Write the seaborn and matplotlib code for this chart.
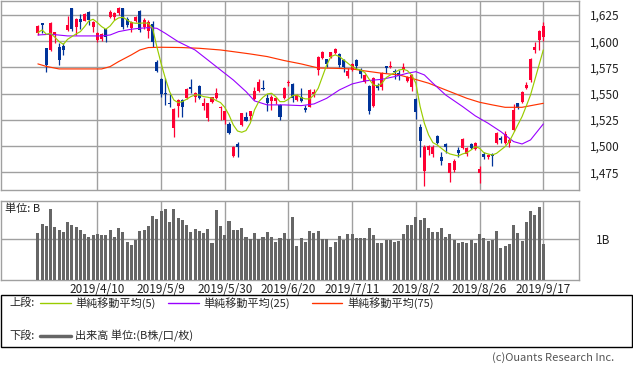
import numpy as np
import pandas as pd
import matplotlib
matplotlib.use("Agg")
import matplotlib.pyplot as plt
import seaborn as sns
from matplotlib.patches import Rectangle

# ---------------- data ----------------
tick_days = [14, 29, 44, 59, 74, 89, 104, 119]
tick_labels = ["2019/4/10", "2019/5/9", "2019/5/30", "2019/6/20",
               "2019/7/11", "2019/8/2", "2019/8/26", "2019/9/17"]
price_ticks = [1475, 1500, 1525, 1550, 1575, 1600, 1625]

opens = [1608.3, 1617.0, 1593.3, 1591.7, 1606.7, 1594.9, 1595.5, 1610.8, 1631.5, 1614.0,
         1621.0, 1619.7, 1628.0, 1614.0, 1601.3, 1602.2, 1611.5, 1623.5, 1622.9, 1626.7,
         1631.5, 1621.0, 1612.4, 1619.7, 1629.0, 1614.0, 1610.2, 1616.5, 1580.6, 1563.7,
         1551.0, 1541.0, 1517.0, 1538.3, 1544.0, 1545.6, 1556.0, 1546.6, 1557.4, 1538.3,
         1526.5, 1542.0, 1545.6, 1536.5, 1525.0, 1521.0, 1490.6, 1502.0, 1520.2, 1527.5,
         1528.8, 1544.7, 1552.9, 1555.8, 1546.2, 1543.4, 1543.4, 1539.3, 1545.6, 1559.9,
         1559.3, 1544.0, 1547.2, 1536.1, 1537.7, 1549.4, 1572.6, 1583.8, 1582.8, 1584.7,
         1588.5, 1587.9, 1582.2, 1566.9, 1572.6, 1582.2, 1572.6, 1561.5, 1557.4, 1538.3,
         1558.3, 1556.1, 1576.5, 1575.8, 1571.7, 1570.1, 1572.6, 1562.5, 1556.1, 1545.0,
         1518.6, 1476.6, 1496.3, 1492.5, 1509.7, 1490.0, 1502.0, 1474.0, 1477.2, 1496.3,
         1497.9, 1492.2, 1502.0, 1496.9, 1474.1, 1492.5, 1490.0, 1492.5, 1502.7, 1507.4,
         1502.7, 1502.7, 1515.4, 1540.8, 1542.4, 1555.2, 1563.1, 1591.7, 1601.3, 1604.5]
closes = [1614.6, 1616.0, 1577.4, 1617.8, 1608.6, 1582.2, 1591.7, 1615.6, 1611.5, 1621.0,
          1618.8, 1626.0, 1620.0, 1618.8, 1607.6, 1606.7, 1604.5, 1628.0, 1626.7, 1631.5,
          1614.0, 1615.6, 1618.8, 1623.5, 1610.8, 1620.4, 1618.8, 1599.7, 1572.0, 1549.7,
          1549.7, 1540.5, 1535.4, 1544.0, 1537.0, 1554.2, 1554.8, 1550.4, 1545.6, 1541.5,
          1540.8, 1546.6, 1551.0, 1536.8, 1533.0, 1512.2, 1499.5, 1498.8, 1531.3, 1524.3,
          1533.0, 1552.9, 1561.5, 1554.2, 1541.5, 1547.2, 1545.6, 1528.1, 1555.8, 1561.5,
          1545.6, 1548.8, 1543.4, 1534.5, 1553.6, 1552.0, 1585.4, 1590.1, 1578.4, 1589.5,
          1592.7, 1577.4, 1575.8, 1572.0, 1578.4, 1576.5, 1568.8, 1567.9, 1533.8, 1564.7,
          1555.2, 1569.5, 1574.2, 1576.8, 1570.4, 1566.9, 1575.2, 1566.3, 1567.9, 1532.9,
          1505.2, 1499.5, 1500.2, 1499.5, 1503.3, 1486.2, 1498.8, 1483.6, 1486.2, 1493.1,
          1506.8, 1497.9, 1497.9, 1503.3, 1477.9, 1490.0, 1491.2, 1490.6, 1512.2, 1505.9,
          1511.3, 1505.9, 1534.5, 1536.7, 1551.7, 1558.3, 1582.8, 1594.9, 1610.2, 1614.6]
highs = [1616.0, 1617.5, 1594.0, 1618.5, 1609.2, 1598.0, 1598.0, 1624.0, 1632.0, 1622.0,
         1626.0, 1626.7, 1629.0, 1619.5, 1608.6, 1607.5, 1612.0, 1629.5, 1627.5, 1633.0,
         1632.0, 1623.0, 1619.5, 1624.5, 1630.0, 1622.0, 1620.0, 1619.0, 1582.0, 1565.0,
         1564.6, 1549.5, 1536.0, 1544.6, 1544.6, 1555.0, 1563.7, 1552.0, 1558.0, 1545.6,
         1541.5, 1547.2, 1555.0, 1538.3, 1533.6, 1523.4, 1500.0, 1504.3, 1532.0, 1532.9,
         1533.5, 1556.0, 1563.7, 1563.0, 1549.4, 1548.8, 1547.0, 1540.0, 1556.7, 1563.0,
         1560.0, 1549.4, 1555.0, 1539.3, 1554.2, 1554.2, 1586.0, 1590.8, 1583.5, 1590.0,
         1593.3, 1589.2, 1583.0, 1574.2, 1579.6, 1583.0, 1574.2, 1569.0, 1558.0, 1565.6,
         1560.0, 1571.0, 1576.5, 1581.2, 1573.6, 1572.6, 1579.6, 1566.9, 1568.5, 1545.6,
         1521.1, 1501.1, 1501.1, 1501.1, 1511.0, 1494.7, 1502.5, 1484.2, 1487.4, 1499.5,
         1507.4, 1499.5, 1503.3, 1504.3, 1481.4, 1494.7, 1492.5, 1493.7, 1513.8, 1509.7,
         1514.5, 1507.4, 1540.2, 1541.5, 1552.6, 1561.5, 1583.8, 1599.7, 1610.8, 1618.8]
lows = [1606.0, 1608.0, 1571.0, 1591.0, 1598.0, 1577.0, 1587.0, 1610.0, 1610.0, 1606.0,
        1612.0, 1619.0, 1616.0, 1609.0, 1599.7, 1600.0, 1599.0, 1622.0, 1620.0, 1625.0,
        1612.0, 1614.0, 1609.0, 1618.5, 1609.0, 1612.0, 1603.0, 1595.0, 1571.0, 1547.0,
        1539.3, 1537.0, 1508.4, 1528.0, 1527.5, 1545.0, 1550.4, 1542.4, 1545.0, 1534.5,
        1524.0, 1541.5, 1545.0, 1525.0, 1521.0, 1511.6, 1489.3, 1490.0, 1519.0, 1524.0,
        1525.0, 1544.0, 1552.0, 1553.6, 1533.0, 1534.5, 1540.0, 1525.0, 1544.7, 1557.4,
        1542.4, 1543.4, 1542.4, 1532.2, 1537.0, 1546.6, 1567.9, 1582.8, 1575.8, 1583.8,
        1588.0, 1575.8, 1571.0, 1564.7, 1572.0, 1573.3, 1564.7, 1560.5, 1530.7, 1537.0,
        1553.6, 1553.6, 1570.1, 1574.9, 1564.1, 1563.1, 1571.0, 1561.5, 1552.9, 1525.6,
        1490.0, 1462.3, 1491.5, 1490.0, 1502.0, 1482.0, 1493.7, 1466.0, 1475.6, 1490.0,
        1496.9, 1490.6, 1496.9, 1496.3, 1465.1, 1487.7, 1487.7, 1481.4, 1501.7, 1503.3,
        1502.0, 1499.5, 1514.8, 1535.1, 1541.5, 1554.2, 1561.5, 1588.5, 1591.7, 1600.6]

volume_b = [1.16, 1.38, 1.33, 1.75, 1.30, 1.23, 1.18, 1.43, 1.36, 1.30,
            1.24, 1.14, 1.06, 1.11, 1.13, 1.11, 1.11, 1.23, 1.06, 1.28,
            1.18, 0.93, 0.87, 0.98, 1.20, 1.23, 1.33, 1.57, 1.50, 1.70,
            1.75, 1.43, 1.75, 1.52, 1.48, 1.35, 1.18, 1.25, 1.20, 1.16,
            1.25, 0.91, 1.72, 1.33, 1.11, 1.45, 1.23, 1.23, 1.28, 1.06,
            1.01, 1.16, 1.01, 1.06, 1.18, 1.06, 0.93, 1.03, 1.16, 1.01,
            1.56, 0.84, 1.03, 0.93, 1.20, 1.16, 1.20, 1.01, 1.01, 0.81,
            0.93, 1.08, 0.98, 1.13, 1.13, 1.03, 1.03, 1.03, 1.28, 1.11,
            0.91, 0.91, 0.98, 0.98, 0.93, 0.96, 1.13, 1.35, 1.35, 1.55,
            1.48, 1.52, 1.28, 1.18, 1.18, 1.28, 1.06, 1.13, 0.98, 0.91,
            0.93, 0.91, 0.98, 0.91, 1.13, 1.03, 0.96, 0.98, 1.20, 0.79,
            0.84, 0.89, 1.35, 1.16, 0.96, 1.43, 1.70, 1.60, 1.80, 0.89]

ma5 = [1608.3, 1610.8, 1606.7, 1607.6, 1603.8, 1599.7, 1597.1, 1601.9, 1604.5, 1607.0,
       1609.2, 1614.0, 1619.4, 1621.0, 1617.8, 1614.0, 1611.5, 1614.6, 1619.7, 1622.3,
       1622.9, 1620.4, 1617.8, 1617.2, 1617.2, 1617.5, 1617.2, 1612.4, 1594.9, 1579.0,
       1564.7, 1552.0, 1544.0, 1541.5, 1542.4, 1544.7, 1547.2, 1548.8, 1548.8, 1547.2,
       1546.6, 1545.6, 1543.4, 1541.5, 1537.0, 1529.7, 1520.2, 1514.4, 1513.2, 1514.8,
       1521.8, 1534.5, 1542.4, 1546.6, 1549.7, 1550.4, 1547.2, 1542.4, 1542.4, 1544.7,
       1548.2, 1548.8, 1546.2, 1545.0, 1545.0, 1548.8, 1555.2, 1566.3, 1577.4, 1585.4,
       1587.0, 1585.4, 1582.2, 1579.0, 1575.8, 1573.6, 1572.6, 1570.1, 1563.7, 1558.3,
       1557.4, 1559.9, 1565.3, 1567.9, 1570.1, 1572.6, 1573.3, 1572.0, 1567.9, 1559.9,
       1537.7, 1521.8, 1510.6, 1503.3, 1501.1, 1497.9, 1494.7, 1492.5, 1491.5, 1490.6,
       1492.5, 1493.7, 1496.3, 1499.5, 1497.9, 1493.7, 1492.5, 1491.5, 1493.1, 1496.3,
       1499.5, 1504.3, 1512.2, 1520.2, 1528.1, 1538.3, 1548.8, 1563.1, 1577.4, 1591.7]

ma25_days = [0, 3, 7, 11, 15, 17, 19, 22, 24, 26, 28, 30, 33, 37, 40, 43, 46, 49, 51, 54,
             58, 62, 65, 68, 71, 74, 77, 81, 84, 87, 89, 91, 93, 96, 100, 103, 106, 109,
             112, 114, 116, 119]
ma25 = [1606.0, 1606.7, 1605.1, 1605.1, 1605.1, 1606.0, 1609.2, 1611.5, 1612.4, 1613.0,
        1612.4, 1607.6, 1599.7, 1591.7, 1582.2, 1572.6, 1563.1, 1552.0, 1543.1, 1539.3,
        1539.3, 1538.6, 1540.2, 1545.6, 1553.6, 1559.3, 1562.2, 1563.7, 1566.3, 1569.5,
        1571.0, 1567.9, 1560.0, 1548.8, 1537.7, 1528.8, 1521.8, 1513.8, 1504.3, 1502.0,
        1505.9, 1521.1]

ma75_days = [0, 2, 5, 15, 17, 19, 22, 24, 26, 29, 34, 38, 43, 46, 50, 54, 58, 62, 66, 70,
             74, 77, 81, 85, 88, 92, 95, 98, 101, 104, 107, 110, 114, 117, 119]
ma75 = [1578.4, 1576.0, 1573.6, 1573.6, 1575.8, 1580.6, 1587.0, 1591.7, 1594.0, 1594.3,
        1594.0, 1593.3, 1591.7, 1590.1, 1587.9, 1585.4, 1581.6, 1578.4, 1574.5, 1574.2,
        1573.6, 1571.7, 1569.5, 1567.9, 1564.7, 1560.0, 1555.2, 1550.4, 1545.6, 1541.8,
        1539.3, 1537.0, 1537.0, 1539.3, 1540.8]

# ---------------- style ----------------
sns.set_theme(style="white")
plt.rcParams["font.family"] = ["Noto Sans CJK JP", "DejaVu Sans"]

RED = "#ff0033"
BLUE = "#003399"
C5 = "#99cc00"
C25 = "#9900ff"
C75 = "#ff3300"
GRID = "#a0a0a0"
VOLC = "#666666"

W, H = 633, 373


def rect(x0, y0, x1, y1):
    return [x0 / W, 1 - y1 / H, (x1 - x0) / W, (y1 - y0) / H]


fig = plt.figure(figsize=(W / 100, H / 100), dpi=100)
ax = fig.add_axes(rect(0.5, 0.5, 579, 190))
vax = fig.add_axes(rect(0.5, 201, 579, 280))

px_per_day = 4.247
x_first = 37.9
xlim = ((0.5 - x_first) / px_per_day, (579 - x_first) / px_per_day)

df = pd.DataFrame({"day": np.arange(len(opens)), "open": opens, "close": closes,
                   "high": highs, "low": lows, "vol": volume_b, "ma5": ma5})
df["up"] = df["close"] >= df["open"]
df["color"] = np.where(df["up"], RED, BLUE)
df["bottom"] = df[["open", "close"]].min(axis=1)
df["height"] = (df["close"] - df["open"]).abs().clip(lower=0.9)

# candles
ax.vlines(df["day"], df["low"], df["high"], colors=df["color"], linewidth=0.9, zorder=3)
ax.bar(df["day"], df["height"], bottom=df["bottom"], width=0.72,
       color=df["color"], linewidth=0, zorder=4)

# moving averages
sns.lineplot(x=ma75_days, y=ma75, ax=ax, color=C75, linewidth=0.85, zorder=5)
sns.lineplot(x=ma25_days, y=ma25, ax=ax, color=C25, linewidth=0.8, zorder=5)
sns.lineplot(data=df, x="day", y="ma5", ax=ax, color=C5, linewidth=0.85, zorder=6)

ax.set_xlim(*xlim)
ax.set_ylim(1458.1, 1638.9)
ax.set_xticks(tick_days)
ax.set_xticklabels([])
ax.yaxis.tick_right()
ax.set_yticks(price_ticks)
ax.set_yticklabels([f"{v:,}" for v in price_ticks])
ax.tick_params(axis="both", length=0, labelsize=8.5, labelcolor="#222222")
ax.tick_params(axis="y", pad=8)
ax.grid(True, color=GRID, linewidth=1)
ax.set_axisbelow(True)
ax.set_xlabel("")
ax.set_ylabel("")
for s in ax.spines.values():
    s.set_color(GRID)
    s.set_linewidth(1)

# volume
sns.barplot(data=df, x="day", y="vol", ax=vax, native_scale=True, color=VOLC,
            saturation=1, width=0.72, errorbar=None, linewidth=0, zorder=3)
vax.set_xlim(*xlim)
vax.set_ylim(0, 1.941)
vax.set_xticks(tick_days)
vax.set_xticklabels(tick_labels)
vax.yaxis.tick_right()
vax.set_yticks([1])
vax.set_yticklabels(["1B"])
vax.tick_params(axis="both", length=0, labelsize=8.5, labelcolor="#222222")
vax.tick_params(axis="x", pad=2)
vax.tick_params(axis="y", pad=12)
vax.grid(True, color=GRID, linewidth=1)
vax.set_axisbelow(True)
vax.set_xlabel("")
vax.set_ylabel("")
for s in vax.spines.values():
    s.set_color(GRID)
    s.set_linewidth(1)
vax.text(4.5 / 578.5, 0.9, "単位: B", transform=vax.transAxes, fontsize=8,
         ha="left", va="center", color="#222222")

# legend area (pixel coordinates)
lax = fig.add_axes([0, 0, 1, 1])
lax.set_xlim(0, W)
lax.set_ylim(H, 0)
lax.axis("off")
lax.add_patch(Rectangle((0.5, 295), 631.5, 51.5, fill=False, edgecolor="black", linewidth=1))
r1, r2 = 303, 336
lax.text(9, r1, "上段:", fontsize=8, va="center", ha="left")
lax.plot([40, 71], [r1, r1], color=C5, linewidth=1)
lax.text(75, r1, "単純移動平均(5)", fontsize=8, va="center", ha="left")
lax.plot([168, 199], [r1, r1], color=C25, linewidth=1)
lax.text(203, r1, "単純移動平均(25)", fontsize=8, va="center", ha="left")
lax.plot([312, 342], [r1, r1], color=C75, linewidth=1)
lax.text(347, r1, "単純移動平均(75)", fontsize=8, va="center", ha="left")
lax.text(9, r2, "下段:", fontsize=8, va="center", ha="left")
lax.plot([40, 71], [r2, r2], color=VOLC, linewidth=2.5)
lax.text(75, r2, "出来高 単位:(B株/口/枚)", fontsize=8, va="center", ha="left")
lax.text(614, 358, "(c)Ouants Research Inc.", fontsize=8, va="center", ha="right",
         color="#555555")

fig.savefig("out.png", dpi=100)
